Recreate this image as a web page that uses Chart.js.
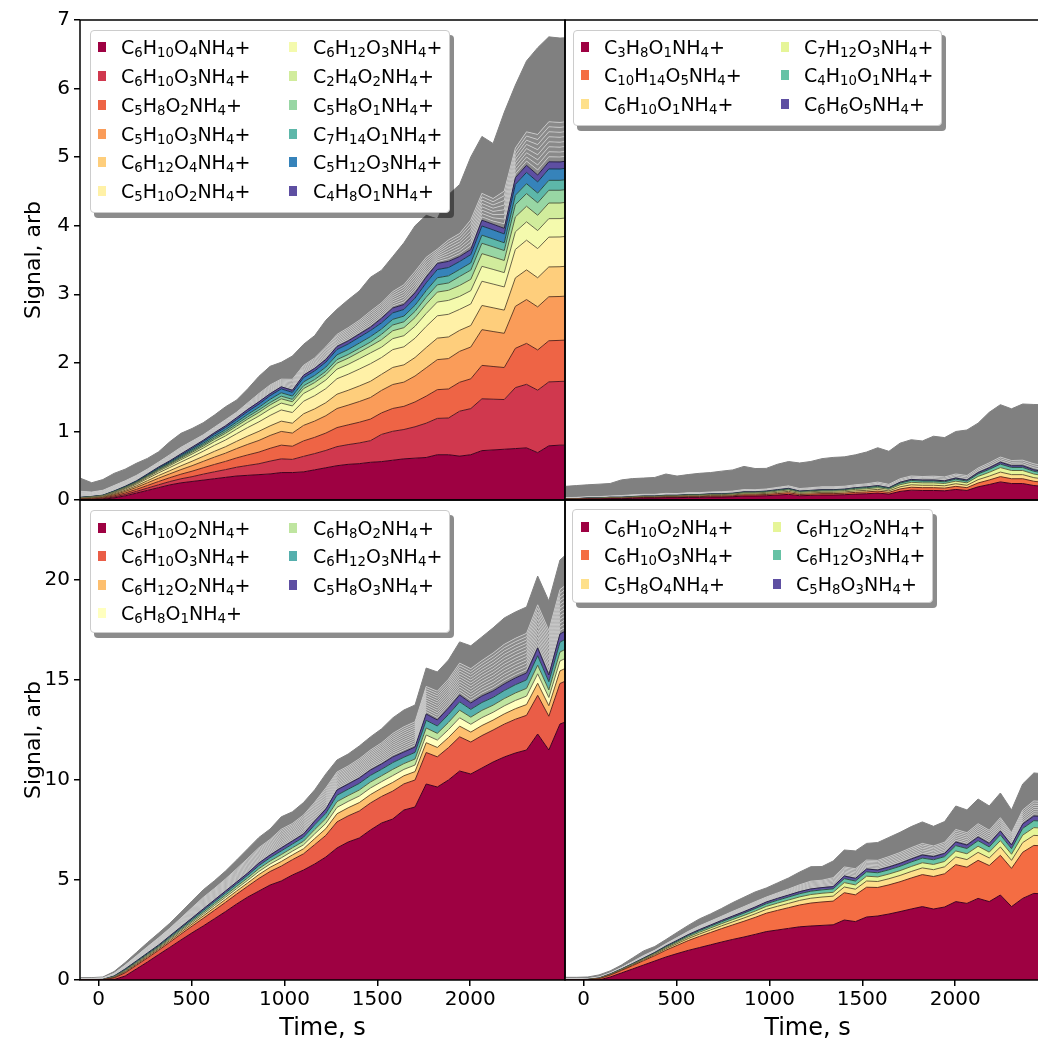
<!DOCTYPE html>
<html><head><meta charset="utf-8">
<script src="https://cdn.jsdelivr.net/npm/chart.js@4.4.1/dist/chart.umd.min.js"></script>
<style>
html,body{margin:0;padding:0;width:1038px;height:1046px;overflow:hidden;background:#fff;font-family:'DejaVu Sans',sans-serif;}
canvas{position:absolute;}
.legend{position:absolute;background:#fff;border:1px solid #cccccc;border-radius:4px;box-shadow:4px 5px 0 rgba(0,0,0,0.45);font-size:19px;color:#000;box-sizing:border-box;}
.item{position:absolute;white-space:nowrap;line-height:19px;height:19px;}
.sw{position:absolute;width:8px;height:10px;}
sub{font-size:0.7em;vertical-align:-0.2em;line-height:0;}
</style></head><body>
<canvas id="tl" width="570" height="505" style="left:0;top:0"></canvas>
<canvas id="tr" width="495" height="505" style="left:560px;top:0"></canvas>
<canvas id="bl" width="570" height="551" style="left:0;top:495px"></canvas>
<canvas id="br" width="495" height="551" style="left:560px;top:495px"></canvas>
<script>
// ---------------- DATA ----------------
const times = [-97,-37,23,83,143,203,263,323,383,443,503,563,623,683,743,803,863,923,983,1043,1103,1163,1223,1283,1343,1403,1463,1523,1583,1643,1703,1763,1823,1883,1943,2003,2063,2123,2183,2243,2303,2363,2423,2483,2543];
const xTickValues = [0,500,1000,1500,2000];
const yTicksTop = [0,1,2,3,4,5,6,7];
const yTicksBottom = [0,5,10,15,20];

// Top-left panel
const tlNames = ['C6H10O4NH4+','C6H10O3NH4+','C5H8O2NH4+','C5H10O3NH4+','C6H12O4NH4+','C5H10O2NH4+','C6H12O3NH4+','C2H4O2NH4+','C5H8O1NH4+','C7H14O1NH4+','C5H12O3NH4+','C4H8O1NH4+'];
const tlL1 = [0,0,.01,.03,.06,.10,.14,.18,.22,.25,.27,.29,.31,.33,.35,.36,.37,.38,.40,.40,.41,.44,.47,.50,.52,.53,.55,.56,.58,.60,.61,.62,.66,.66,.64,.66,.72,.73,.74,.75,.76,.69,.79,.80,.80];
const tlL2 = [.006,.007,.008,.014,.020,.025,.034,.042,.049,.059,.070,.087,.101,.113,.128,.144,.159,.187,.200,.192,.226,.237,.253,.278,.288,.302,.315,.397,.422,.428,.458,.500,.530,.536,.655,.673,.756,.740,.725,.889,.927,.911,.932,.929,.934];
const tlL3 = [.006,.008,.010,.016,.022,.029,.038,.048,.056,.067,.080,.093,.107,.120,.136,.154,.170,.187,.200,.192,.226,.237,.253,.278,.288,.302,.315,.314,.333,.338,.362,.395,.419,.423,.422,.434,.487,.477,.467,.573,.597,.587,.600,.599,.602];
const tlL4 = [.006,.008,.010,.016,.022,.029,.038,.048,.056,.067,.080,.093,.107,.120,.136,.154,.170,.187,.200,.192,.226,.237,.253,.278,.288,.302,.315,.328,.349,.353,.378,.413,.438,.443,.451,.464,.521,.510,.499,.612,.639,.628,.642,.640,.643];
const tlL5 = [.005,.007,.008,.013,.018,.023,.031,.039,.046,.055,.065,.073,.084,.094,.106,.120,.133,.140,.150,.144,.169,.178,.190,.209,.216,.227,.236,.234,.249,.252,.270,.295,.313,.316,.306,.314,.353,.346,.338,.415,.433,.425,.435,.434,.436];
const tlL6 = [.005,.007,.008,.013,.018,.023,.031,.039,.046,.055,.065,.075,.087,.098,.111,.125,.138,.152,.163,.156,.183,.192,.205,.226,.234,.246,.256,.245,.260,.263,.282,.308,.326,.330,.306,.314,.353,.346,.338,.415,.433,.425,.435,.434,.436];
const tlL7 = [.003,.004,.005,.008,.011,.014,.019,.024,.028,.034,.040,.046,.054,.060,.068,.077,.085,.094,.100,.096,.113,.118,.126,.139,.144,.151,.158,.151,.160,.162,.174,.189,.201,.203,.189,.194,.218,.214,.209,.257,.268,.263,.269,.268,.270];
const tlL8 = [.002,.003,.003,.005,.007,.009,.012,.015,.018,.021,.025,.029,.034,.038,.043,.048,.053,.059,.063,.060,.071,.074,.079,.087,.090,.095,.099,.109,.115,.117,.125,.137,.145,.147,.160,.165,.185,.181,.177,.217,.227,.223,.228,.227,.228];
const tlL9 = [.001,.002,.002,.004,.005,.006,.008,.011,.012,.015,.018,.019,.022,.025,.028,.032,.035,.035,.038,.036,.042,.044,.047,.052,.054,.057,.059,.079,.084,.086,.092,.100,.106,.107,.131,.135,.151,.148,.145,.178,.185,.182,.186,.186,.187];
const tlL10 = [.001,.002,.002,.004,.005,.006,.008,.011,.012,.015,.018,.021,.025,.028,.031,.036,.039,.047,.050,.048,.056,.059,.063,.070,.072,.076,.079,.077,.082,.083,.089,.097,.103,.104,.102,.105,.118,.115,.113,.138,.144,.142,.145,.145,.145];
const tlL11 = [.002,.002,.002,.004,.006,.007,.010,.012,.014,.017,.020,.025,.029,.032,.037,.041,.046,.053,.056,.054,.063,.067,.071,.078,.081,.085,.089,.090,.095,.097,.104,.113,.120,.121,.116,.120,.134,.132,.129,.158,.165,.162,.166,.165,.166];
const tlL12 = [.002,.002,.002,.004,.006,.007,.010,.012,.014,.017,.020,.019,.021,.024,.027,.031,.034,.029,.031,.030,.035,.037,.040,.044,.045,.047,.049,.067,.071,.072,.077,.084,.089,.090,.073,.075,.084,.082,.081,.099,.103,.101,.104,.103,.104];
const tlMinor = [.011,.008,.009,.010,.010,.010,.009,.009,.011,.012,.011,.010,.010,.011,.010,.012,.015,.016,.014,.020,.018,.019,.023,.022,.024,.025,.029,.028,.030,.036,.039,.036,.026,.039,.042,.054,.049,.047,.068,.054,.061,.074,.073,.072,.072];
const tlRest = [.19,.136,.156,.177,.17,.177,.156,.15,.19,.204,.184,.177,.177,.19,.177,.204,.252,.272,.245,.34,.306,.326,.388,.367,.408,.428,.496,.476,.51,.612,.666,.612,.442,.66,.714,.918,.83,.802,1.149,.918,1.034,1.265,1.238,1.231,1.217];

// Top-right panel
const trNames = ['C3H8O1NH4+','C10H14O5NH4+','C6H10O1NH4+','C7H12O3NH4+','C4H10O1NH4+','C6H6O5NH4+'];
const trL1 = [.010,.010,.014,.014,.019,.019,.024,.029,.029,.034,.034,.038,.038,.043,.043,.048,.058,.058,.062,.072,.082,.062,.067,.072,.072,.077,.086,.091,.101,.086,.125,.144,.139,.139,.134,.154,.139,.192,.226,.264,.240,.240,.211,.197,.192];
const trL2 = [.003,.003,.004,.004,.006,.006,.007,.008,.008,.010,.010,.011,.011,.013,.013,.014,.017,.017,.018,.021,.024,.018,.020,.021,.021,.022,.025,.027,.029,.025,.036,.042,.041,.041,.039,.045,.041,.056,.066,.077,.070,.070,.062,.057,.056];
const trL3 = [.002,.002,.004,.004,.005,.005,.006,.007,.007,.008,.008,.010,.010,.011,.011,.012,.014,.014,.016,.018,.020,.016,.017,.018,.018,.019,.022,.023,.025,.022,.031,.036,.035,.035,.034,.038,.035,.048,.056,.066,.060,.060,.053,.049,.048];
const trL4 = [.002,.002,.004,.004,.005,.005,.006,.007,.007,.008,.008,.010,.010,.011,.011,.012,.014,.014,.016,.018,.020,.016,.017,.018,.018,.019,.022,.023,.025,.022,.031,.036,.035,.035,.034,.038,.035,.048,.056,.066,.060,.060,.053,.049,.048];
const trL5 = [.002,.002,.003,.003,.004,.004,.005,.005,.005,.006,.006,.007,.007,.008,.008,.009,.011,.011,.012,.014,.015,.012,.013,.014,.014,.014,.016,.017,.019,.016,.023,.027,.026,.026,.025,.029,.026,.036,.042,.050,.045,.045,.040,.037,.036];
const trL6 = [.001,.001,.002,.002,.002,.002,.003,.003,.003,.004,.004,.004,.004,.005,.005,.005,.006,.006,.007,.008,.009,.007,.007,.008,.008,.008,.009,.010,.011,.009,.013,.015,.015,.015,.014,.016,.015,.020,.024,.028,.025,.025,.022,.021,.020];
const trMinor = [.005,.006,.006,.006,.006,.008,.008,.008,.008,.009,.008,.009,.009,.009,.010,.010,.011,.010,.010,.011,.012,.012,.013,.014,.014,.014,.014,.015,.017,.016,.017,.017,.017,.019,.019,.020,.022,.022,.024,.025,.025,.027,.029,.029,.029];
const trRest = [.164,.173,.173,.182,.182,.228,.237,.237,.246,.282,.255,.264,.282,.282,.300,.309,.337,.309,.300,.337,.355,.373,.382,.410,.428,.428,.437,.464,.501,.482,.519,.528,.519,.582,.573,.619,.664,.655,.737,.764,.755,.819,.865,.892,.892];

// Bottom-left panel
const blNames = ['C6H10O2NH4+','C6H10O3NH4+','C6H12O2NH4+','C6H8O1NH4+','C6H8O2NH4+','C6H12O3NH4+','C5H8O3NH4+'];
const blL1 = [0,0,0,.02,.2,.55,.9,1.27,1.63,2.0,2.36,2.7,3.06,3.42,3.8,4.15,4.45,4.75,4.95,5.25,5.5,5.8,6.15,6.6,6.9,7.1,7.5,7.85,8.05,8.5,8.65,9.8,9.65,10.0,10.45,10.3,10.6,10.9,11.15,11.35,11.5,12.3,11.5,12.8,13.0];
const blL2 = [.009,.009,.014,.081,.158,.18,.203,.216,.257,.293,.333,.383,.423,.464,.495,.54,.63,.675,.743,.765,.81,.968,1.08,1.305,1.305,1.35,1.35,1.328,1.395,1.305,1.35,1.575,1.508,1.62,1.71,1.598,1.62,1.598,1.643,1.688,1.733,1.935,1.688,2.025,2.07];
const blL3 = [.003,.003,.004,.025,.049,.056,.063,.067,.08,.091,.104,.119,.132,.144,.154,.168,.196,.21,.231,.238,.252,.301,.336,.406,.406,.42,.42,.413,.434,.406,.42,.49,.469,.504,.532,.497,.504,.497,.511,.525,.539,.602,.525,.63,.644];
const blL4 = [.002,.002,.003,.02,.039,.044,.05,.053,.063,.072,.081,.094,.103,.113,.121,.132,.154,.165,.182,.187,.198,.237,.264,.319,.319,.33,.33,.325,.341,.319,.33,.385,.369,.396,.418,.391,.396,.391,.402,.413,.424,.473,.413,.495,.506];
const blL5 = [.002,.002,.003,.018,.035,.04,.045,.048,.057,.065,.074,.085,.094,.103,.11,.12,.14,.15,.165,.17,.18,.215,.24,.29,.29,.30,.30,.295,.31,.29,.30,.35,.335,.36,.38,.355,.36,.355,.365,.375,.385,.43,.375,.45,.46];
const blL6 = [.002,.002,.003,.02,.039,.044,.05,.053,.063,.072,.081,.094,.103,.113,.121,.132,.154,.165,.182,.187,.198,.237,.264,.319,.319,.33,.33,.325,.341,.319,.33,.385,.369,.396,.418,.391,.396,.391,.402,.413,.424,.473,.413,.495,.506];
const blL7 = [.002,.002,.003,.016,.032,.036,.041,.043,.051,.059,.067,.077,.085,.093,.099,.108,.126,.135,.149,.153,.162,.194,.216,.261,.261,.27,.27,.266,.279,.261,.27,.315,.302,.324,.342,.32,.324,.32,.329,.338,.347,.387,.338,.405,.414];
const blMinor = [.005,.005,.006,.011,.016,.021,.026,.03,.032,.037,.043,.048,.048,.05,.055,.061,.064,.065,.078,.073,.079,.078,.088,.075,.075,.08,.083,.088,.098,.105,.105,.115,.12,.12,.133,.143,.148,.158,.165,.165,.165,.18,.185,.185,.195];
const blRest = [.04,.04,.048,.088,.128,.168,.208,.236,.252,.292,.34,.38,.384,.4,.44,.484,.512,.52,.62,.584,.628,.62,.7,.6,.6,.64,.66,.7,.78,.84,.84,.92,.96,.96,1.06,1.14,1.18,1.26,1.32,1.32,1.32,1.44,1.48,1.48,1.56];

// Bottom-right panel
const brNames = ['C6H10O2NH4+','C6H10O3NH4+','C5H8O4NH4+','C6H12O2NH4+','C6H12O3NH4+','C5H8O3NH4+'];
const brL1 = [0,0,0,0,.15,.35,.55,.75,.95,1.15,1.32,1.48,1.62,1.76,1.9,2.03,2.15,2.28,2.42,2.5,2.58,2.66,2.7,2.73,2.76,3.0,2.92,3.15,3.2,3.3,3.42,3.55,3.67,3.55,3.65,3.92,3.83,4.08,3.92,4.25,3.67,4.08,4.33,4.3,4.3];
const brL2 = [.012,.012,.019,.062,.093,.124,.167,.217,.267,.341,.409,.49,.558,.614,.67,.725,.787,.849,.918,.98,1.035,1.091,1.147,1.172,1.184,1.364,1.339,1.488,1.426,1.457,1.494,1.55,1.6,1.624,1.662,1.848,1.81,1.903,1.804,1.984,1.91,2.306,2.399,2.399,2.418];
const brL3 = [.003,.003,.004,.013,.02,.026,.035,.046,.056,.072,.086,.103,.117,.129,.14,.152,.165,.178,.192,.205,.217,.229,.241,.246,.248,.286,.281,.312,.299,.306,.313,.325,.335,.341,.348,.387,.38,.399,.378,.416,.40,.484,.503,.503,.507];
const brL4 = [.002,.002,.003,.01,.015,.02,.027,.035,.043,.055,.066,.079,.09,.099,.108,.117,.127,.137,.148,.158,.167,.176,.185,.189,.191,.22,.216,.24,.23,.235,.241,.25,.258,.262,.268,.298,.292,.307,.291,.32,.308,.372,.387,.387,.39];
const brL5 = [.002,.002,.003,.009,.014,.018,.024,.032,.039,.05,.059,.071,.081,.089,.097,.105,.114,.123,.133,.142,.15,.158,.167,.17,.172,.198,.194,.216,.207,.212,.217,.225,.232,.236,.241,.268,.263,.276,.262,.288,.277,.335,.348,.348,.351];
const brL6 = [.001,.001,.002,.006,.009,.012,.016,.021,.026,.033,.04,.047,.054,.059,.065,.07,.076,.082,.089,.095,.1,.106,.111,.113,.115,.132,.13,.144,.138,.141,.145,.15,.155,.157,.161,.179,.175,.184,.175,.192,.185,.223,.232,.232,.234];
const brMinor = [.006,.006,.006,.008,.008,.010,.014,.018,.015,.016,.020,.023,.027,.028,.030,.034,.036,.038,.035,.039,.043,.049,.056,.053,.064,.065,.069,.064,.069,.074,.078,.081,.083,.076,.080,.090,.088,.095,.094,.095,.088,.100,.108,.107,.105];
const brRest = [.072,.072,.078,.098,.098,.124,.182,.228,.189,.208,.26,.299,.345,.358,.39,.436,.468,.488,.455,.501,.553,.637,.722,.683,.832,.845,.891,.832,.891,.962,1.008,1.053,1.073,.982,1.034,1.17,1.138,1.235,1.216,1.235,1.138,1.3,1.398,1.385,1.365];

// ---------------- STYLE ----------------
const tlColors = ['#9e0142','#d0384e','#ee6445','#fa9c59','#fece7c','#fff1a7','#f4faad','#d1ec9c','#98d6a4','#5db7a9','#3683ba','#5e4fa2'];
const sixColors = ['#9e0142','#f46d43','#fee08b','#e6f598','#66c2a5','#5e4fa2'];
const blColors = ['#9e0142','#ea5d47','#fdbf6f','#ffffbf','#bfe5a0','#55afad','#5e4fa2'];

Chart.defaults.font.family = "'DejaVu Sans', sans-serif";
Chart.defaults.color = '#000';

function darken(hex, f) {
  const n = parseInt(hex.slice(1), 16);
  return 'rgb(' + Math.round(((n >> 16) & 255) * f) + ',' + Math.round(((n >> 8) & 255) * f) + ',' + Math.round((n & 255) * f) + ')';
}
function pts(vals) { return vals.map((v, i) => ({ x: times[i], y: v })); }

const framePlugin = {
  id: 'frame',
  afterDraw(chart) {
    const a = chart.chartArea, ctx = chart.ctx;
    ctx.save();
    ctx.strokeStyle = '#000';
    ctx.lineWidth = 1.5;
    ctx.strokeRect(a.left, a.top, a.right - a.left, a.bottom - a.top);
    ctx.restore();
  }
};

function makeChart(id, o) {
  const ds = [];
  o.series.forEach((s, i) => ds.push({
    data: pts(s), fill: i === 0 ? 'origin' : '-1', backgroundColor: o.colors[i],
    borderColor: darken(o.colors[i], 0.42), borderWidth: 1, pointRadius: 0, tension: 0
  }));
  for (let j = 0; j < o.minorCount; j++) ds.push({
    data: pts(o.minor), fill: '-1', backgroundColor: '#8a8a8a', borderColor: '#cfcfcf', borderWidth: 0.8, pointRadius: 0, tension: 0
  });
  ds.push({ data: pts(o.rest), fill: '-1', backgroundColor: '#808080', borderColor: '#808080', borderWidth: 1, pointRadius: 0, tension: 0 });

  const tickGrid = { display: true, drawOnChartArea: false, drawTicks: true, tickLength: 6, color: '#000', lineWidth: 1.5 };
  const x = {
    type: 'linear', min: -100, max: 2510, display: o.showX,
    afterBuildTicks: s => { s.ticks = xTickValues.map(v => ({ value: v })); },
    ticks: { font: { size: 20 }, color: '#000', padding: 2, maxRotation: 0, autoSkip: false, callback: v => String(v) },
    grid: tickGrid, border: { display: false },
    title: { display: true, text: 'Time, s', font: { size: 24 }, color: '#000', padding: { top: 0, bottom: 3 } },
    afterFit: s => { if (s.options.display) { s.height = 66; } s.paddingLeft = 0; s.paddingRight = 0; }
  };
  const y = {
    type: 'linear', stacked: true, min: 0, max: o.ymax, display: o.showY,
    afterBuildTicks: s => { s.ticks = o.yTicks.map(v => ({ value: v })); },
    ticks: { font: { size: 20 }, color: '#000', padding: 4, callback: v => String(v) },
    grid: tickGrid, border: { display: false },
    title: { display: true, text: 'Signal, arb', font: { size: 22 }, color: '#000', padding: { top: 21, bottom: 0 } },
    afterFit: s => { if (s.options.display) { s.width = 80; } s.paddingTop = 0; s.paddingBottom = 0; }
  };
  return new Chart(document.getElementById(id), {
    type: 'line',
    data: { datasets: ds },
    options: {
      responsive: false, animation: false, devicePixelRatio: 1, events: [],
      layout: { padding: o.padding },
      plugins: { legend: { display: false }, tooltip: { enabled: false } },
      scales: { x, y }
    },
    plugins: [framePlugin]
  });
}

makeChart('tl', { series: [tlL1,tlL2,tlL3,tlL4,tlL5,tlL6,tlL7,tlL8,tlL9,tlL10,tlL11,tlL12], colors: tlColors,
  minor: tlMinor, minorCount: 8, rest: tlRest, ymax: 7, yTicks: yTicksTop, showX: false, showY: true,
  padding: { left: 0, top: 20, right: 5, bottom: 5 } });
makeChart('tr', { series: [trL1,trL2,trL3,trL4,trL5,trL6], colors: sixColors,
  minor: trMinor, minorCount: 3, rest: trRest, ymax: 7, yTicks: yTicksTop, showX: false, showY: false,
  padding: { left: 5, top: 20, right: 5, bottom: 5 } });
makeChart('bl', { series: [blL1,blL2,blL3,blL4,blL5,blL6,blL7], colors: blColors,
  minor: blMinor, minorCount: 12, rest: blRest, ymax: 24, yTicks: yTicksBottom, showX: true, showY: true,
  padding: { left: 0, top: 5, right: 5, bottom: 0 } });
makeChart('br', { series: [brL1,brL2,brL3,brL4,brL5,brL6], colors: sixColors,
  minor: brMinor, minorCount: 7, rest: brRest, ymax: 24, yTicks: yTicksBottom, showX: true, showY: false,
  padding: { left: 5, top: 5, right: 5, bottom: 0 } });

// ---------------- LEGENDS (HTML, real text) ----------------
function fmt(name) { return name.replace(/(\d+)/g, '<sub>$1</sub>'); }
const legends = [
  { left: 90, top: 30, w: 360, h: 183, rows: 6, row0: 16.7, step: 28.8, cols: [[7, 30], [198, 222]], names: tlNames, colors: tlColors },
  { left: 573, top: 30, w: 369, h: 96, rows: 3, row0: 16, step: 28.7, cols: [[7, 30], [207, 230]], names: trNames, colors: sixColors },
  { left: 90, top: 510, w: 360, h: 123, rows: 4, row0: 17, step: 28.5, cols: [[7, 30], [198, 222]], names: blNames, colors: blColors },
  { left: 572, top: 509, w: 361, h: 94, rows: 3, row0: 17, step: 28.5, cols: [[8, 31], [200, 223]], names: brNames, colors: sixColors }
];
legends.forEach(L => {
  const box = document.createElement('div');
  box.className = 'legend';
  box.style.left = L.left + 'px'; box.style.top = L.top + 'px';
  box.style.width = L.w + 'px'; box.style.height = L.h + 'px';
  L.names.forEach((n, i) => {
    const c = Math.floor(i / L.rows), r = i % L.rows;
    const cy = L.row0 + r * L.step;
    const sw = document.createElement('div');
    sw.className = 'sw';
    sw.style.left = L.cols[c][0] + 'px'; sw.style.top = (cy - 5.5) + 'px';
    sw.style.background = L.colors[i];
    box.appendChild(sw);
    const t = document.createElement('div');
    t.className = 'item';
    t.style.left = L.cols[c][1] + 'px'; t.style.top = (cy - 9.5) + 'px';
    t.innerHTML = fmt(n);
    box.appendChild(t);
  });
  document.body.appendChild(box);
});
</script>
</body></html>
